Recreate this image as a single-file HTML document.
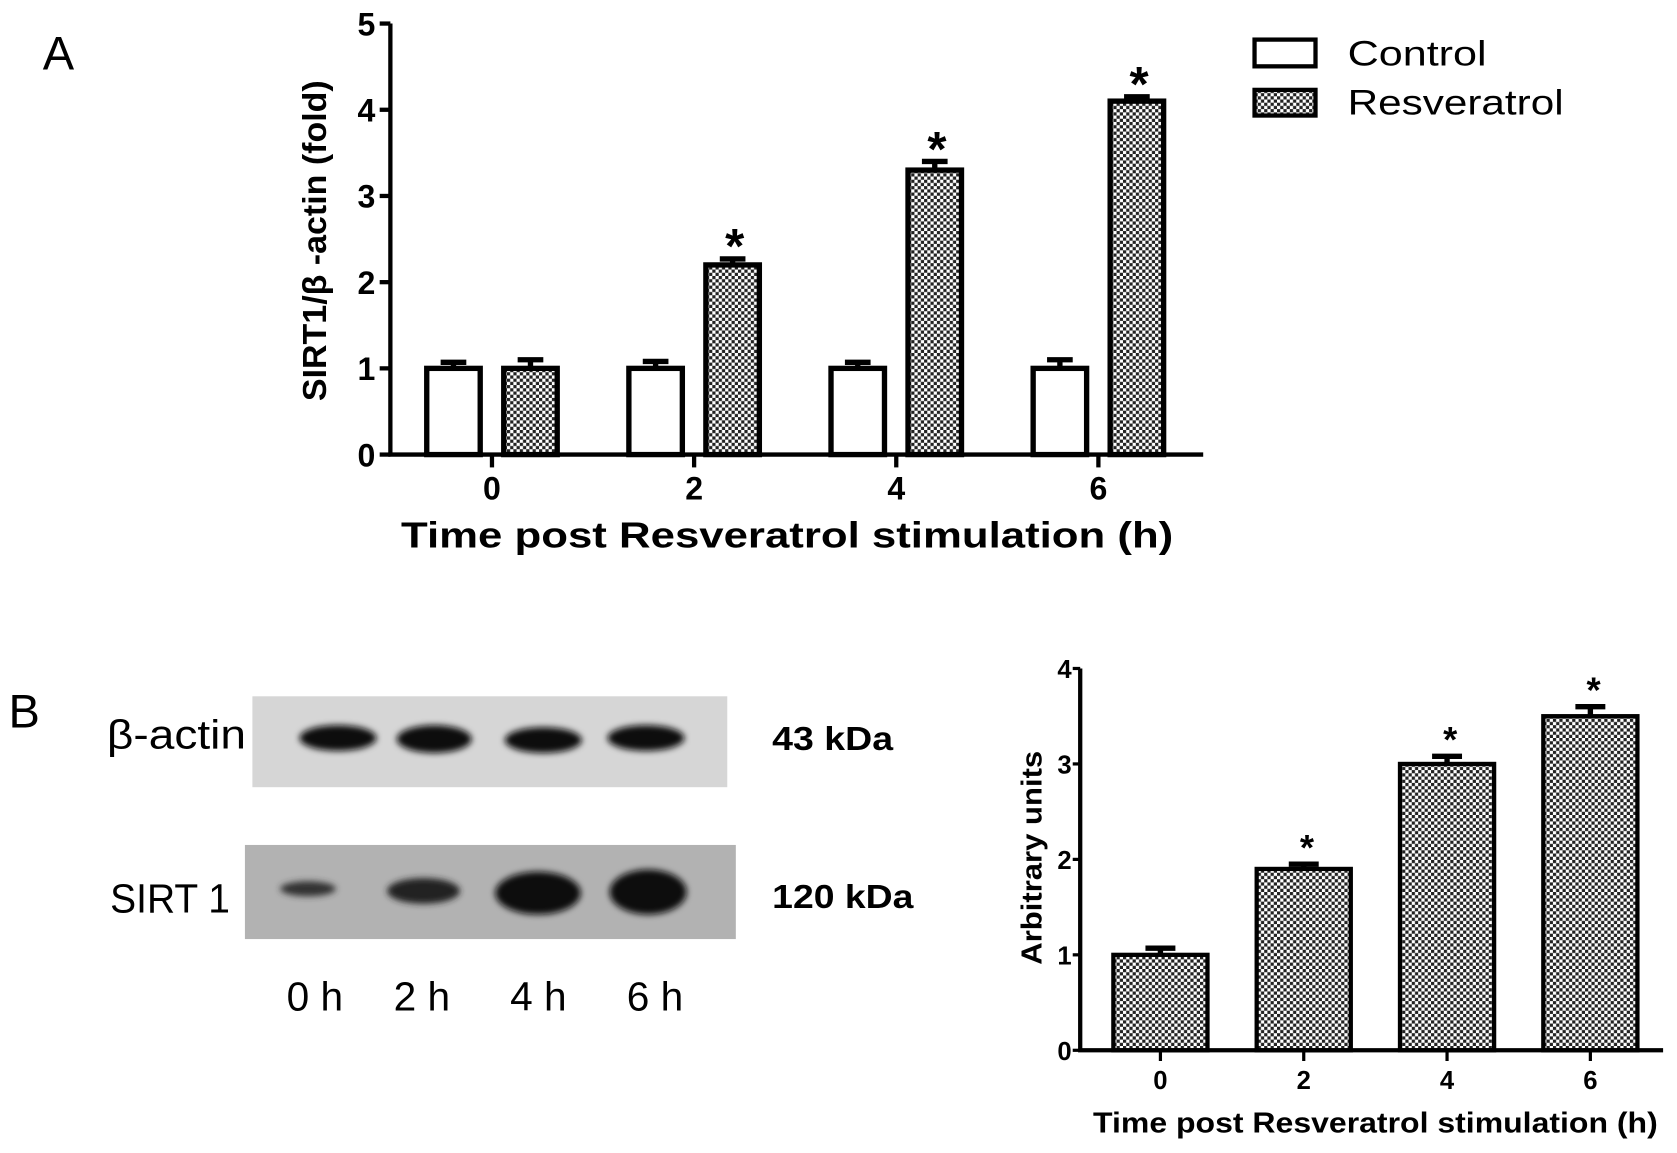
<!DOCTYPE html>
<html><head><meta charset="utf-8"><style>
html,body{margin:0;padding:0;background:#fff;}
svg{display:block;}
text{font-family:"Liberation Sans",sans-serif;}
</style></head><body>
<svg width="1677" height="1153" viewBox="0 0 1568 1078" xmlns="http://www.w3.org/2000/svg">
<defs>
<pattern id="chk" width="6" height="6" patternUnits="userSpaceOnUse">
<rect width="6" height="6" fill="#fff"/><rect width="3" height="3" fill="#222"/><rect x="3" y="3" width="3" height="3" fill="#222"/>
</pattern>
<filter id="blur"><feGaussianBlur stdDeviation="3"/></filter>
</defs>
<text x="40" y="65" font-size="44">A</text>
<text x="8" y="680" font-size="44">B</text>
<g id="chartA"></g>
<g id="legend">
<rect x="1173" y="37" width="57" height="25" fill="#fff" stroke="#000" stroke-width="4"/>
<text x="1260" y="61" font-size="33" textLength="130" lengthAdjust="spacingAndGlyphs">Control</text>
<rect x="1173" y="84" width="57" height="24" fill="url(#chk)" stroke="#000" stroke-width="4"/>
<text x="1260" y="107" font-size="33" textLength="202" lengthAdjust="spacingAndGlyphs">Resveratrol</text>
</g>
<g>
<rect x="236" y="651" width="444" height="85" fill="#d6d6d6"/>
<rect x="229" y="790" width="459" height="88" fill="#b2b2b2"/>
<g filter="url(#blur)" fill="#111">
<ellipse cx="316" cy="690" rx="36" ry="12"/><ellipse cx="406" cy="691" rx="35" ry="13"/><ellipse cx="508" cy="692" rx="36" ry="12"/><ellipse cx="604" cy="690" rx="36" ry="12"/>
<ellipse cx="288" cy="831" rx="26" ry="7" fill="#333"/><ellipse cx="396" cy="833" rx="34" ry="12" fill="#222"/><ellipse cx="503" cy="835" rx="40" ry="20"/><ellipse cx="606" cy="834" rx="36" ry="21"/>
</g>
<text x="100" y="700" font-size="38" textLength="130" lengthAdjust="spacingAndGlyphs">β-actin</text>
<text x="103" y="853" font-size="38" textLength="112" lengthAdjust="spacingAndGlyphs">SIRT 1</text>
<text x="722" y="701" font-size="31" font-weight="bold" textLength="113" lengthAdjust="spacingAndGlyphs">43 kDa</text>
<text x="722" y="849" font-size="31" font-weight="bold" textLength="132" lengthAdjust="spacingAndGlyphs">120 kDa</text>
<text x="268" y="945" font-size="38">0 h</text>
<text x="368" y="945" font-size="38">2 h</text>
<text x="477" y="945" font-size="38">4 h</text>
<text x="586" y="945" font-size="38">6 h</text>
</g>
<g id="chartB"></g>
</svg>
<script>
const catsA=["0","2","4","6"];
const ctrlA=[1,1,1,1];
const ctrlErrA=[0.07,0.08,0.07,0.1];
const resA=[1,2.2,3.3,4.1];
const resErrA=[0.1,0.07,0.1,0.05];
const sigA=[false,true,true,true];
const ticksA=[0,1,2,3,4,5];
const catsB=["0","2","4","6"];
const valB=[1,1.9,3,3.5];
const errB=[0.07,0.05,0.08,0.1];
const sigB=[false,true,true,true];
const ticksB=[0,1,2,3,4];
const NS="http://www.w3.org/2000/svg";
function mk(p,t,a,txt){const e=document.createElementNS(NS,t);for(const k in a)e.setAttribute(k,a[k]);if(txt!==undefined)e.textContent=txt;p.appendChild(e);return e;}
// Chart A
(function(){
const g=document.getElementById('chartA');
const yA=v=>425-v*80.6, xA=i=>460+i*189;
for(let i=0;i<catsA.length;i++){
 const series=[[ctrlA[i],ctrlErrA[i],-36,'#fff','control'],[resA[i],resErrA[i],36,'url(#chk)','resveratrol']];
 series.forEach(s=>{
  const cx=xA(i)+s[2];
  const eb=mk(g,'path',{d:`M${cx} ${yA(s[0])}V${yA(s[0]+s[1])}M${cx-12} ${yA(s[0]+s[1])}H${cx+12}`,stroke:'#000','stroke-width':5,fill:'none'});
  
  
  const r=mk(g,'rect',{x:cx-25,y:yA(s[0]),width:50,height:yA(0)-yA(s[0]),fill:s[3],stroke:'#000','stroke-width':5});
  
  
 });
 if(sigA[i]){const t=mk(g,'text',{x:xA(i)+38,y:yA(resA[i]+resErrA[i])+4,'font-size':46,'font-weight':'bold','text-anchor':'middle'},'*');
  
  }
 const tk=mk(g,'line',{x1:xA(i),x2:xA(i),y1:425,y2:437,stroke:'#000','stroke-width':4});
 
 
 const tl=mk(g,'text',{x:xA(i),y:467,'font-size':30,'font-weight':'bold','text-anchor':'middle'},catsA[i]);
 
 
}
ticksA.forEach(v=>{
 const l=mk(g,'line',{x1:355,x2:365,y1:yA(v),y2:yA(v),stroke:'#000','stroke-width':4});
 
 
 const t=mk(g,'text',{x:351,y:yA(v)+11,'font-size':30,'font-weight':'bold','text-anchor':'end'},v);
 
 
});
const ax=mk(g,'path',{d:`M365 ${yA(5)}V425H1125`,stroke:'#000','stroke-width':4,fill:'none'});


const xt=mk(g,'text',{x:736,y:512,'font-size':34,'font-weight':'bold','text-anchor':'middle',textLength:722,lengthAdjust:'spacingAndGlyphs'},'Time post Resveratrol stimulation (h)');


const yt=mk(g,'text',{x:0,y:0,'font-size':31,'font-weight':'bold','text-anchor':'middle',textLength:300,lengthAdjust:'spacingAndGlyphs',transform:'translate(305 225) rotate(-90)'},'SIRT1/β -actin (fold)');


})();
// Chart B
(function(){
const g=document.getElementById('chartB');
const yB=v=>982-v*89.25, xB=i=>1085+i*134;
for(let i=0;i<catsB.length;i++){
 const cx=xB(i),v=valB[i],e=errB[i];
 const eb=mk(g,'path',{d:`M${cx} ${yB(v)}V${yB(v+e)}M${cx-14} ${yB(v+e)}H${cx+14}`,stroke:'#000','stroke-width':5,fill:'none'});
 
 
 const r=mk(g,'rect',{x:cx-44,y:yB(v),width:88,height:yB(0)-yB(v),fill:'url(#chk)',stroke:'#000','stroke-width':4});
 
 
 if(sigB[i]){const t=mk(g,'text',{x:cx+3,y:yB(v+e)-4,'font-size':34,'font-weight':'bold','text-anchor':'middle'},'*');
  
  }
 const tk=mk(g,'line',{x1:cx,x2:cx,y1:982,y2:992,stroke:'#000','stroke-width':3});
 
 
 const tl=mk(g,'text',{x:cx,y:1018,'font-size':24,'font-weight':'bold','text-anchor':'middle'},catsB[i]);
 
 
}
ticksB.forEach(v=>{
 const l=mk(g,'line',{x1:1003,x2:1010,y1:yB(v),y2:yB(v),stroke:'#000','stroke-width':3});
 
 
 const t=mk(g,'text',{x:1002,y:yB(v)+9,'font-size':24,'font-weight':'bold','text-anchor':'end'},v);
 
 
});
const ax=mk(g,'path',{d:`M1010 ${yB(4)}V982H1555`,stroke:'#000','stroke-width':4,fill:'none'});


const xt=mk(g,'text',{x:1286,y:1059,'font-size':27,'font-weight':'bold','text-anchor':'middle',textLength:528,lengthAdjust:'spacingAndGlyphs'},'Time post Resveratrol stimulation (h)');


const yt=mk(g,'text',{x:0,y:0,'font-size':27,'font-weight':'bold','text-anchor':'middle',textLength:200,lengthAdjust:'spacingAndGlyphs',transform:'translate(974 802) rotate(-90)'},'Arbitrary units');


})();
</script>
</body></html>
